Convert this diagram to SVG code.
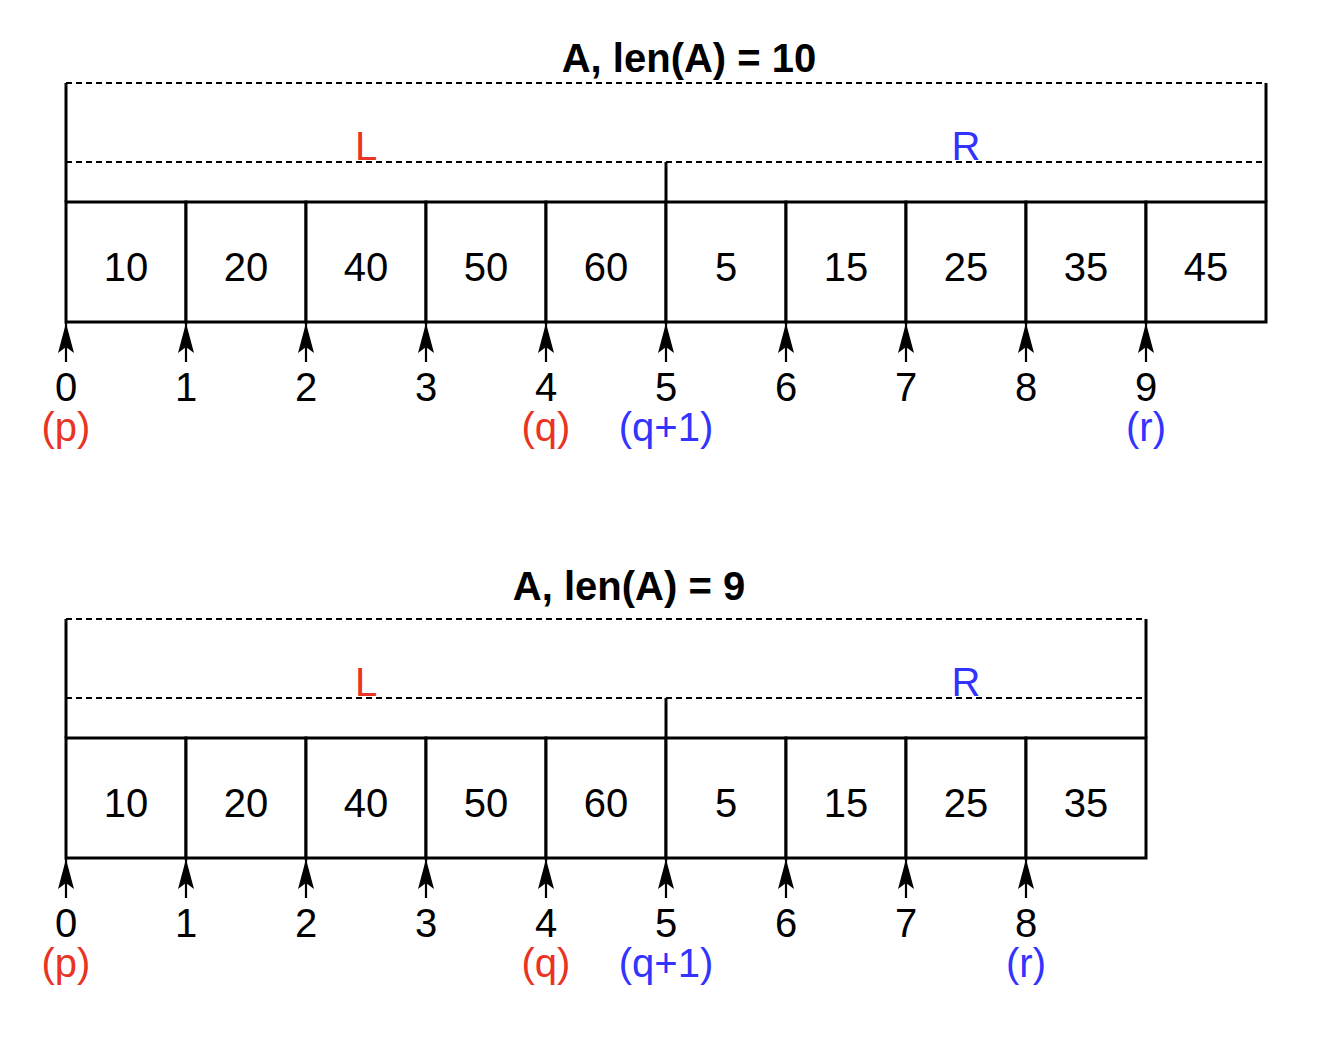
<svg xmlns="http://www.w3.org/2000/svg" width="1336" height="1048" viewBox="0 0 1336 1048">
<defs>
<style>
text{font-family:"Liberation Sans",Arial,sans-serif;font-size:40px;text-anchor:middle;fill:#000}
.title{font-weight:bold;font-size:40px}
.red{fill:#EA3323}
.blue{fill:#3333FF}
.solid{fill:none;stroke:#000;stroke-width:3}
.dash{fill:none;stroke:#000;stroke-width:2.2;stroke-dasharray:6 4}
.cell{fill:#fff;stroke:#000;stroke-width:3}
.arr{stroke:#000;stroke-width:2.2;fill:none;marker-end:url(#ah)}
</style>
<marker id="ah" markerUnits="userSpaceOnUse" viewBox="-32 -10 34 20" refX="0" refY="0" markerWidth="34" markerHeight="20" orient="auto">
<path d="M0,0 L-30,-8 L-24,0 L-30,8 Z" fill="#000"/>
</marker>
</defs>
<rect width="1336" height="1048" fill="#fff"/>

<!-- Top diagram -->
<g id="top-A">
<text class="title" x="689" y="72">A, len(A) = 10</text>
<line class="dash" x1="66" y1="83" x2="1266" y2="83"/>
<line class="solid" x1="66" y1="83" x2="66" y2="202"/>
<line class="solid" x1="1266" y1="83" x2="1266" y2="202"/>
</g>
<g id="top-L">
<line class="dash" x1="66" y1="162" x2="666" y2="162"/>
<line class="solid" x1="666" y1="162" x2="666" y2="202"/>
<text class="red" x="366" y="160">L</text>
</g>
<g id="top-R">
<line class="dash" x1="666" y1="162" x2="1264" y2="162"/>
<text class="blue" x="966" y="160">R</text>
</g>
<g id="top-cells">
<g id="t0"><rect class="cell" x="66" y="202" width="120" height="120"/><text x="126" y="281">10</text></g>
<g id="t1"><rect class="cell" x="186" y="202" width="120" height="120"/><text x="246" y="281">20</text></g>
<g id="t2"><rect class="cell" x="306" y="202" width="120" height="120"/><text x="366" y="281">40</text></g>
<g id="t3"><rect class="cell" x="426" y="202" width="120" height="120"/><text x="486" y="281">50</text></g>
<g id="t4"><rect class="cell" x="546" y="202" width="120" height="120"/><text x="606" y="281">60</text></g>
<g id="t5"><rect class="cell" x="666" y="202" width="120" height="120"/><text x="726" y="281">5</text></g>
<g id="t6"><rect class="cell" x="786" y="202" width="120" height="120"/><text x="846" y="281">15</text></g>
<g id="t7"><rect class="cell" x="906" y="202" width="120" height="120"/><text x="966" y="281">25</text></g>
<g id="t8"><rect class="cell" x="1026" y="202" width="120" height="120"/><text x="1086" y="281">35</text></g>
<g id="t9"><rect class="cell" x="1146" y="202" width="120" height="120"/><text x="1206" y="281">45</text></g>
</g>
<g id="top-idx">
<text x="66" y="401">0</text>
<text x="186" y="401">1</text>
<text x="306" y="401">2</text>
<text x="426" y="401">3</text>
<text x="546" y="401">4</text>
<text x="666" y="401">5</text>
<text x="786" y="401">6</text>
<text x="906" y="401">7</text>
<text x="1026" y="401">8</text>
<text x="1146" y="401">9</text>
<text class="red" x="66" y="441">(p)</text>
<text class="red" x="546" y="441">(q)</text>
<text class="blue" x="666" y="441">(q+1)</text>
<text class="blue" x="1146" y="441">(r)</text>
</g>

<!-- Bottom diagram -->
<g id="bot-A">
<text class="title" x="629" y="600">A, len(A) = 9</text>
<line class="dash" x1="66" y1="619" x2="1146" y2="619"/>
<line class="solid" x1="66" y1="619" x2="66" y2="738"/>
<line class="solid" x1="1146" y1="619" x2="1146" y2="738"/>
</g>
<g id="bot-L">
<line class="dash" x1="66" y1="698" x2="666" y2="698"/>
<line class="solid" x1="666" y1="698" x2="666" y2="738"/>
<text class="red" x="366" y="696">L</text>
</g>
<g id="bot-R">
<line class="dash" x1="666" y1="698" x2="1144" y2="698"/>
<text class="blue" x="966" y="696">R</text>
</g>
<g id="bot-cells">
<g id="b0"><rect class="cell" x="66" y="738" width="120" height="120"/><text x="126" y="817">10</text></g>
<g id="b1"><rect class="cell" x="186" y="738" width="120" height="120"/><text x="246" y="817">20</text></g>
<g id="b2"><rect class="cell" x="306" y="738" width="120" height="120"/><text x="366" y="817">40</text></g>
<g id="b3"><rect class="cell" x="426" y="738" width="120" height="120"/><text x="486" y="817">50</text></g>
<g id="b4"><rect class="cell" x="546" y="738" width="120" height="120"/><text x="606" y="817">60</text></g>
<g id="b5"><rect class="cell" x="666" y="738" width="120" height="120"/><text x="726" y="817">5</text></g>
<g id="b6"><rect class="cell" x="786" y="738" width="120" height="120"/><text x="846" y="817">15</text></g>
<g id="b7"><rect class="cell" x="906" y="738" width="120" height="120"/><text x="966" y="817">25</text></g>
<g id="b8"><rect class="cell" x="1026" y="738" width="120" height="120"/><text x="1086" y="817">35</text></g>
</g>
<g id="bot-idx">
<text x="66" y="937">0</text>
<text x="186" y="937">1</text>
<text x="306" y="937">2</text>
<text x="426" y="937">3</text>
<text x="546" y="937">4</text>
<text x="666" y="937">5</text>
<text x="786" y="937">6</text>
<text x="906" y="937">7</text>
<text x="1026" y="937">8</text>
<text class="red" x="66" y="977">(p)</text>
<text class="red" x="546" y="977">(q)</text>
<text class="blue" x="666" y="977">(q+1)</text>
<text class="blue" x="1026" y="977">(r)</text>
</g>

<g id="connectors">
<line class="arr" x1="66" y1="362" x2="66" y2="323"/>
<line class="arr" x1="186" y1="362" x2="186" y2="323"/>
<line class="arr" x1="306" y1="362" x2="306" y2="323"/>
<line class="arr" x1="426" y1="362" x2="426" y2="323"/>
<line class="arr" x1="546" y1="362" x2="546" y2="323"/>
<line class="arr" x1="666" y1="362" x2="666" y2="323"/>
<line class="arr" x1="786" y1="362" x2="786" y2="323"/>
<line class="arr" x1="906" y1="362" x2="906" y2="323"/>
<line class="arr" x1="1026" y1="362" x2="1026" y2="323"/>
<line class="arr" x1="1146" y1="362" x2="1146" y2="323"/>
<line class="arr" x1="66" y1="898" x2="66" y2="859"/>
<line class="arr" x1="186" y1="898" x2="186" y2="859"/>
<line class="arr" x1="306" y1="898" x2="306" y2="859"/>
<line class="arr" x1="426" y1="898" x2="426" y2="859"/>
<line class="arr" x1="546" y1="898" x2="546" y2="859"/>
<line class="arr" x1="666" y1="898" x2="666" y2="859"/>
<line class="arr" x1="786" y1="898" x2="786" y2="859"/>
<line class="arr" x1="906" y1="898" x2="906" y2="859"/>
<line class="arr" x1="1026" y1="898" x2="1026" y2="859"/>
</g>
</svg>
